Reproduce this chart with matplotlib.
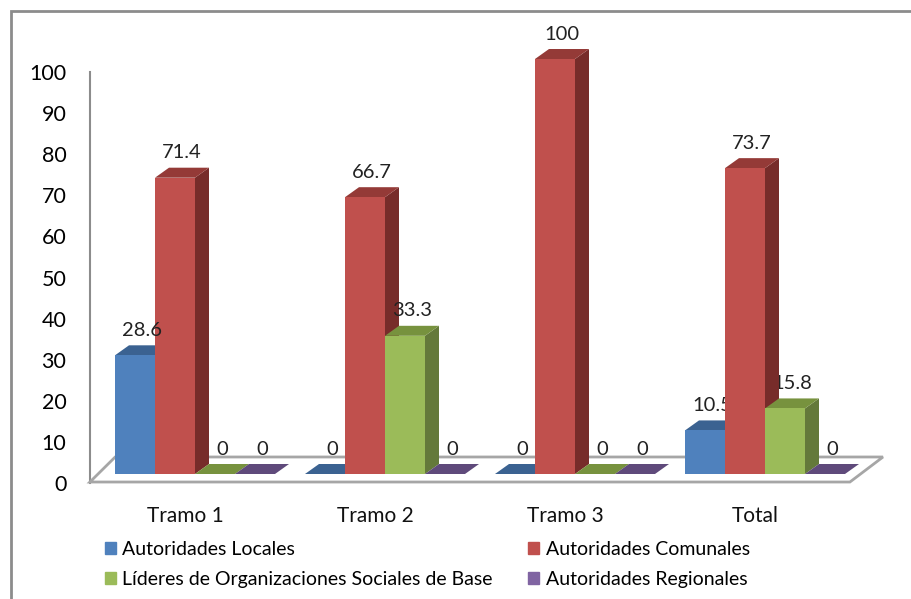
import numpy as np
import matplotlib
matplotlib.use('Agg')
import matplotlib.pyplot as plt
from matplotlib.patches import Polygon, Patch, Rectangle

plt.rcParams['font.family'] = ['Lato', 'DejaVu Sans']

# participation (%) by section
tramos = ['Tramo 1', 'Tramo 2', 'Tramo 3', 'Total']
series = ['Autoridades Locales', 'Autoridades Comunales',
          'Líderes de Organizaciones Sociales de Base', 'Autoridades Regionales']
locales = [28.6, 0, 0, 10.5]
comunales = [71.4, 66.7, 100, 73.7]
lideres = [0, 33.3, 0, 15.8]
regionales = [0, 0, 0, 0]
yticks = np.arange(0, 101, 10)

front = ['#4F81BD', '#C0504D', '#9BBB59', '#8064A2']
top = ['#3B6291', '#943A37', '#77923E', '#5F4A7B']
side = ['#385D8A', '#772C2A', '#64793A', '#4E3D64']

W, H = 912, 599
fig = plt.figure(figsize=(W / 100, H / 100), dpi=100)

# value axis drawn on the back wall
wall = fig.add_axes([90 / W, 1 - 483 / H, 0.002, 411 / H])
wall.set_ylim(0, 100)
wall.set_yticks(yticks)
wall.set_xticks([])
wall.tick_params(axis='y', length=0, pad=17, labelsize=15.5)
for s in ['top', 'right', 'bottom']:
    wall.spines[s].set_visible(False)
wall.spines['left'].set_color('#8C8C8C')
wall.spines['left'].set_linewidth(1.5)
wall.patch.set_visible(False)

# main plotting area: 1 unit in x = one category, y in %
ax = fig.add_axes([0, 0, 1, 1])
px_per_cat, px_per_pct = 190, 4.15
ax.set_xlim(-195 / px_per_cat, (W - 195) / px_per_cat)
ax.set_ylim(-(H - 474) / px_per_pct, 474 / px_per_pct)
ax.axis('off')

bw = 40 / px_per_cat           # bar width
DX, DY = 14 / px_per_cat, 10 / px_per_pct  # depth of the bars

# floor
floor = Polygon([(-0.553, -1.93), (3.447, -1.93), (3.621, 4.1), (-0.42, 4.1)],
                closed=True, facecolor='white', edgecolor='#A6A6A6', lw=2, zorder=1)
ax.add_patch(floor)

values = [locales, comunales, lideres, regionales]
x = np.arange(len(tramos))
z = 2
for i in x:
    for k, vals in enumerate(values):
        v = vals[i]
        x0 = i + (k - 2) * bw
        x1 = x0 + bw
        if v > 0:
            ax.add_patch(Polygon([(x1, 0), (x1 + DX, DY), (x1 + DX, v + DY), (x1, v)],
                                 facecolor=side[k], edgecolor='none', zorder=z))
            ax.add_patch(Rectangle((x0, 0), bw, v, facecolor=front[k],
                                   edgecolor='none', zorder=z + 0.2))
        ax.add_patch(Polygon([(x0, v), (x1, v), (x1 + DX, v + DY), (x0 + DX, v + DY)],
                             facecolor=top[k], edgecolor='none', zorder=z + 0.1))
        ax.text(x0 + bw / 2 + DX / 2, v + DY + 3.6, f'{v:g}', ha='center', va='center',
                fontsize=14.5, color='#222222', zorder=10)
        z += 1

for i, name in enumerate(tramos):
    ax.text(i - 0.05, -10.1, name, ha='center', va='center', fontsize=15, color='#111111')

handles = [Patch(color=front[0], label=series[0]), Patch(color=front[2], label=series[2]),
           Patch(color=front[1], label=series[1]), Patch(color=front[3], label=series[3])]
fig.legend(handles=handles, ncol=2, loc='upper left', bbox_to_anchor=(105 / W, 1 - 541 / H),
           frameon=False, fontsize=14, handlelength=0.55, handleheight=0.55,
           handletextpad=0.35, columnspacing=1.8, labelspacing=0.65, borderaxespad=0,
           borderpad=0)

# outer frame (only top and left edges fall inside the image)
fig.patches.append(Rectangle((11 / W, -0.1), 1.2, 1.1 - 11 / H, transform=fig.transFigure,
                             fill=False, edgecolor='#8C8C8C', lw=2))

fig.savefig('out.png', dpi=100)
